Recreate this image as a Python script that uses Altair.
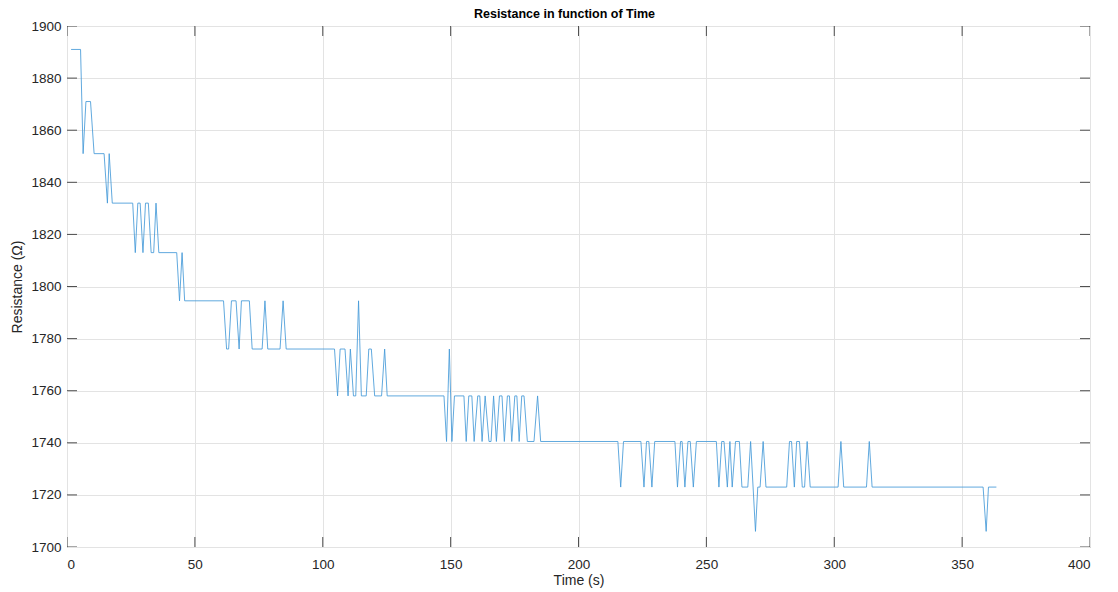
import altair as alt
import pandas as pd

# vertices of the measured trace (time in s, resistance in ohm)
time_s = [1.6, 5.3, 6.3, 7.4, 9.2, 10.6, 14.5, 15.8, 16.5, 17.7, 25.7, 26.7, 27.7, 28.6, 29.7, 30.7,
          31.8, 32.9, 33.9, 34.8, 35.9, 42.9, 44.0, 45.0, 46.0, 61.2, 62.4, 63.2, 64.3, 66.1, 67.3,
          68.2, 71.3, 72.4, 76.3, 77.4, 78.5, 83.3, 84.5, 85.7, 104.6, 105.8, 106.8, 108.7, 109.9,
          110.8, 112.0, 112.9, 114.0, 115.1, 117.0, 118.0, 119.0, 120.3, 123.0, 124.2, 125.2, 147.4,
          148.4, 149.5, 150.5, 151.5, 155.2, 156.1, 157.1, 158.3, 159.2, 160.6, 161.4, 162.3, 163.5,
          165.0, 165.8, 166.8, 167.9, 169.1, 170.1, 171.0, 172.2, 173.0, 173.9, 175.1, 175.9, 176.8,
          177.8, 178.7, 180.0, 182.6, 184.0, 185.2, 215.4, 216.5, 217.6, 224.4, 225.6, 226.6, 227.5,
          228.7, 229.8, 237.7, 238.7, 239.9, 240.5, 241.6, 242.8, 243.7, 244.9, 246.1, 253.9, 254.9,
          256.0, 256.9, 258.2, 259.2, 260.1, 261.4, 262.9, 263.9, 266.2, 267.3, 269.2, 270.1, 271.0,
          272.2, 273.3, 281.4, 282.5, 283.3, 284.4, 285.3, 286.4, 287.5, 288.4, 289.4, 290.6, 301.5,
          302.6, 303.7, 312.6, 313.7, 314.8, 358.2, 359.4, 360.3, 363.4]
resistance = [1891, 1891, 1851, 1871, 1871, 1851, 1851, 1832, 1851, 1832, 1832, 1813, 1832, 1832, 1813, 1832,
              1832, 1813, 1813, 1832, 1813, 1813, 1794.5, 1813, 1794.5, 1794.5, 1776, 1776, 1794.5, 1794.5, 1776,
              1794.5, 1794.5, 1776, 1776, 1794.5, 1776, 1776, 1794.5, 1776, 1776, 1758, 1776, 1776, 1758,
              1776, 1758, 1758, 1794.5, 1758, 1758, 1776, 1776, 1758, 1758, 1776, 1758, 1758,
              1740.5, 1776, 1740.5, 1758, 1758, 1740.5, 1758, 1758, 1740.5, 1758, 1758, 1740.5, 1758,
              1740.5, 1740.5, 1758, 1740.5, 1758, 1758, 1740.5, 1758, 1758, 1740.5, 1758, 1758, 1740.5,
              1758, 1758, 1740.5, 1740.5, 1758, 1740.5, 1740.5, 1723, 1740.5, 1740.5, 1723, 1740.5, 1740.5,
              1723, 1740.5, 1740.5, 1723, 1740.5, 1740.5, 1723, 1740.5, 1740.5, 1723, 1740.5, 1740.5, 1723,
              1740.5, 1740.5, 1723, 1740.5, 1723, 1740.5, 1740.5, 1723, 1723, 1740.5, 1706, 1723, 1723,
              1740.5, 1723, 1723, 1740.5, 1740.5, 1723, 1740.5, 1740.5, 1723, 1723, 1740.5, 1723, 1723,
              1740.5, 1723, 1723, 1740.5, 1723, 1723, 1706, 1723, 1723]

x_ticks = [0, 50, 100, 150, 200, 250, 300, 350, 400]
y_ticks = [1700, 1720, 1740, 1760, 1780, 1800, 1820, 1840, 1860, 1880, 1900]

W, H = 1023, 521
FONT = "Liberation Sans"
AX = "#262626"

df = pd.DataFrame({"t": time_s, "r": resistance})
xt = pd.DataFrame({"t": x_ticks})
yt = pd.DataFrame({"r": y_ticks})

xscale = alt.Scale(domain=[0, 400], nice=False, zero=False)
yscale = alt.Scale(domain=[1700, 1900], nice=False, zero=False)

axis_style = dict(tickSize=0, domain=False, grid=True, format="d",
                  labelFont=FONT, titleFont=FONT, labelFontSize=13.5, titleFontSize=14,
                  labelColor=AX, titleColor=AX, titleFontWeight="normal",
                  gridColor="#e3e3e3", gridWidth=1, gridOpacity=1)

line = alt.Chart(df).mark_line(color="#4499d8", strokeWidth=0.85, clip=True).encode(
    x=alt.X("t:Q", scale=xscale,
            axis=alt.Axis(values=x_ticks, title="Time (s)", labelPadding=10, titlePadding=3,
                          **axis_style)),
    y=alt.Y("r:Q", scale=yscale,
            axis=alt.Axis(values=y_ticks, title="Resistance (Ω)", labelPadding=6, titlePadding=6,
                          **axis_style)),
    order=alt.Order("t:Q"),
)

tick_style = dict(color=AX, size=20, thickness=1, clip=True, opacity=0.8)
bottom = alt.Chart(xt).mark_tick(**tick_style).encode(x=alt.X("t:Q", scale=xscale), y=alt.value(H))
top = alt.Chart(xt).mark_tick(**tick_style).encode(x=alt.X("t:Q", scale=xscale), y=alt.value(0))
left = alt.Chart(yt).mark_tick(**tick_style).encode(y=alt.Y("r:Q", scale=yscale), x=alt.value(0))
right = alt.Chart(yt).mark_tick(**tick_style).encode(y=alt.Y("r:Q", scale=yscale), x=alt.value(W))

chart = alt.layer(line, bottom, top, left, right).properties(
    width=W, height=H,
    background="white",
    title=alt.TitleParams("Resistance in function of Time", fontSize=12.5, fontWeight="bold",
                          font=FONT, color="black", offset=5, dy=6, dx=-14, anchor="middle"),
    autosize=alt.AutoSizeParams(type="none"),
    padding={"left": 67, "top": 26, "right": 28, "bottom": 45},
).configure_view(
    stroke="#7a7a7a", strokeWidth=1
)

chart.save("out.html", embed_options={"renderer": "svg", "actions": False})
